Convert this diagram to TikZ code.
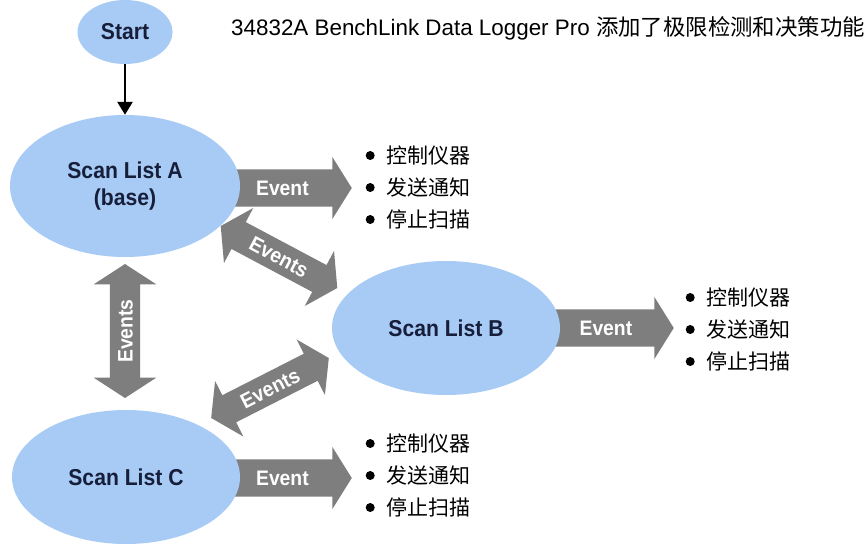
\documentclass[tikz,border=0pt]{standalone}
\usepackage{fontspec}
\setmainfont{Liberation Sans}
\newfontfamily\cjk{Noto Sans CJK SC}
\newfontfamily\lblfont[FakeStretch=0.92]{Liberation Sans}
\usetikzlibrary{shapes.geometric,shapes.arrows,arrows.meta}
\definecolor{ellblue}{RGB}{168,203,245}
\definecolor{evgray}{RGB}{126,126,126}
\definecolor{navy}{RGB}{22,30,58}
\newcommand\bul{\tikz[baseline=-7.5pt]\fill[black] (0pt,0pt) circle[radius=4.5pt];\hspace{12pt}}
\begin{document}
\begin{tikzpicture}[x=1pt,y=-1pt,
  ell/.style={ellipse, fill=ellblue, inner sep=0pt, text=navy, align=center,
    font=\lblfont\bfseries\fontsize{23}{27}\selectfont},
  evsingle/.style={single arrow, fill=evgray, text=white, inner xsep=0pt, inner ysep=0pt,
    font=\lblfont\bfseries\fontsize{21}{21}\selectfont,
    text height=26pt, text depth=11pt,
    single arrow head extend=12.5pt, single arrow tip angle=116, minimum height=#1},
  evdouble/.style={double arrow, fill=evgray, text=white, inner xsep=0pt, inner ysep=0pt,
    font=\lblfont\bfseries\fontsize{21}{21}\selectfont,
    text height=22.5pt, text depth=7.5pt,
    double arrow head extend=16pt, double arrow tip angle=114, minimum height=#1},
  list/.style={anchor=west, align=left, inner sep=0pt,
    font=\cjk\fontsize{21}{32}\selectfont},
  flow/.style={line width=2.6pt, -{Triangle[width=15pt,length=13pt]}}
]
\useasboundingbox (0,0) rectangle (868,547);
\fill[white] (0,0) rectangle (868,547);

% title
\node[anchor=west, inner sep=0pt, font=\fontsize{22.4}{22.4}\selectfont] (title) at (231,28)
  {34832A BenchLink Data Logger Pro {\cjk 添加了极限检测和决策功能}};

% block arrows (drawn first, ellipses on top)
\node[evsingle=127pt, anchor=tip] (ea) at (352,188) {Event};
\node[evsingle=124pt, anchor=tip] (eb) at (674,328) {Event};
\node[evsingle=127pt, anchor=tip] (ec) at (352,478) {Event};
\node[evdouble=134pt, rotate=90] (eac) at (125,331) {Events};
\node[evdouble=132pt, rotate=-28] (eab) at (279,257) {Events};
\node[evdouble=132pt, rotate=27] (ebc) at (270,388) {Events};

% ellipses
\node[ell, minimum width=95pt, minimum height=64pt] (start) at (125,32) {Start};
\node[ell, minimum width=230pt, minimum height=142pt] (A) at (125,186) {Scan List A\\(base)};
\node[ell, minimum width=228pt, minimum height=134pt] (B) at (446,328) {Scan List B};
\node[ell, minimum width=228pt, minimum height=134pt] (C) at (126,477) {Scan List C};

\draw[flow] (start) -- (A);

% bullet lists
\node[list] (la) at (365.5,187) {\bul 控制仪器\\\bul 发送通知\\\bul 停止扫描};
\node[list] (lb) at (685.5,329) {\bul 控制仪器\\\bul 发送通知\\\bul 停止扫描};
\node[list] (lc) at (365.5,475) {\bul 控制仪器\\\bul 发送通知\\\bul 停止扫描};
\end{tikzpicture}
\end{document}
